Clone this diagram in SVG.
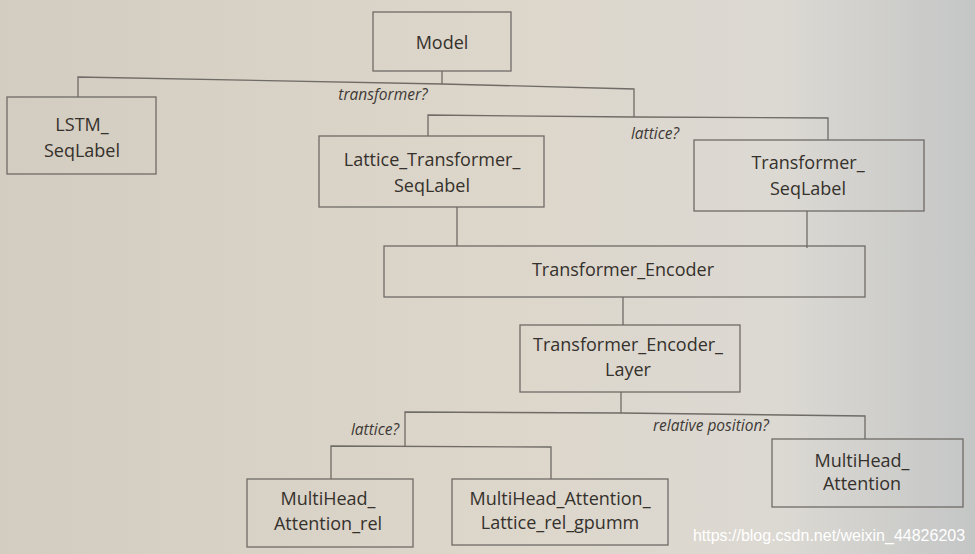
<svg xmlns="http://www.w3.org/2000/svg" width="975" height="554" viewBox="0 0 975 554">
<defs>
<linearGradient id="bg" x1="0" y1="0" x2="1" y2="0">
<stop offset="0" stop-color="#d3ccc0"/>
<stop offset="0.5" stop-color="#ddd6ca"/>
<stop offset="0.8" stop-color="#dcd9d3"/>
<stop offset="1" stop-color="#c4c6c6"/>
</linearGradient>
<style>
.box{fill:none;stroke:#6f6b66;stroke-width:1.3}
.t{font-family:"Open Sans","Liberation Sans",sans-serif;font-size:18px;fill:#35312c;text-anchor:middle}
.lbl{font-family:"Open Sans","Liberation Sans",sans-serif;font-size:15.5px;font-style:italic;fill:#3e3a36;text-anchor:middle}
.c{fill:none;stroke:#6f6b66;stroke-width:1.3}
.wm{font-family:"Liberation Sans",Arial,sans-serif;font-size:16px;fill:#ffffff;text-anchor:middle}
</style>
</defs>
<rect width="975" height="554" fill="url(#bg)"/>
<g id="connectors">
<polyline class="c" points="442,71 442,84"/>
<polyline class="c" points="78,97 78,77 442,84 634,89 634,117"/>
<polyline class="c" points="428,136 428,115 634,117 828,118 828,140"/>
<line class="c" x1="457" y1="207" x2="457" y2="246"/>
<line class="c" x1="807" y1="211" x2="807" y2="248"/>
<line class="c" x1="623" y1="297" x2="623" y2="325"/>
<polyline class="c" points="621,392 621,413"/>
<polyline class="c" points="405,446 405,412 621,413 865,416 865,439"/>
<polyline class="c" points="331,479 331,446 551,447 551,479"/>
<text class="lbl" x="383" y="100">transformer?</text>
<text class="lbl" x="655" y="139">lattice?</text>
<text class="lbl" x="375" y="435">lattice?</text>
<text class="lbl" x="711" y="431">relative position?</text>
</g>
<g id="model">
<rect class="box" x="373" y="12" width="138" height="59"/>
<text class="t" x="442" y="49">Model</text>
</g>
<g id="lstm">
<rect class="box" x="7" y="97" width="149" height="77"/>
<text class="t" x="82" y="131">LSTM_</text>
<text class="t" x="82" y="157">SeqLabel</text>
</g>
<g id="lattice_transformer">
<rect class="box" x="319" y="136" width="225" height="71"/>
<text class="t" x="432" y="166">Lattice_Transformer_</text>
<text class="t" x="432" y="192">SeqLabel</text>
</g>
<g id="transformer_seqlabel">
<rect class="box" x="694" y="140" width="230" height="71"/>
<text class="t" x="808" y="169">Transformer_</text>
<text class="t" x="808" y="195">SeqLabel</text>
</g>
<g id="encoder">
<rect class="box" x="384" y="246" width="481" height="51"/>
<text class="t" x="623" y="276">Transformer_Encoder</text>
</g>
<g id="encoder_layer">
<rect class="box" x="520" y="325" width="220" height="67"/>
<text class="t" x="628" y="351">Transformer_Encoder_</text>
<text class="t" x="628" y="376">Layer</text>
</g>
<g id="mha_rel">
<rect class="box" x="247" y="479" width="166" height="68"/>
<text class="t" x="328" y="505">MultiHead_</text>
<text class="t" x="328" y="530">Attention_rel</text>
</g>
<g id="mha_lattice">
<rect class="box" x="452" y="479" width="216" height="66"/>
<text class="t" x="560" y="505">MultiHead_Attention_</text>
<text class="t" x="560" y="529">Lattice_rel_gpumm</text>
</g>
<g id="mha">
<rect class="box" x="772" y="439" width="191" height="68"/>
<text class="t" x="862" y="467">MultiHead_</text>
<text class="t" x="862" y="490">Attention</text>
</g>
<text class="wm" x="829" y="541">https://blog.csdn.net/weixin_44826203</text>
</svg>
